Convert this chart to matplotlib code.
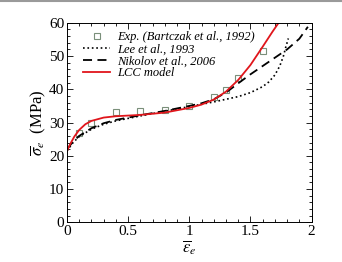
import numpy as np
import matplotlib.pyplot as plt
from matplotlib.ticker import MultipleLocator, FormatStrFormatter
from matplotlib.lines import Line2D

plt.rcParams['font.family'] = ['Liberation Serif', 'DejaVu Serif']
plt.rcParams['mathtext.fontset'] = 'stix'

# experimental points (Bartczak et al., 1992)
exp_x = [0.1, 0.2, 0.4, 0.6, 0.8, 1.0, 1.2, 1.3, 1.4, 1.6]
exp_y = [27.0, 29.8, 33.2, 33.5, 33.8, 35.0, 37.8, 39.8, 43.5, 51.5]

# Lee et al., 1993
lee_x = [0.0, 0.05, 0.1, 0.2, 0.3, 0.4, 0.6, 0.8, 1.0, 1.2, 1.4, 1.5, 1.6, 1.65, 1.7, 1.74, 1.77, 1.79, 1.81]
lee_y = [21.5, 24.0, 25.8, 28.0, 29.5, 30.5, 32.0, 33.4, 34.8, 36.2, 37.8, 39.0, 40.8, 42.2, 44.3, 47.0, 50.0, 52.8, 55.3]

# Nikolov et al., 2006
nik_x = [0.0, 0.05, 0.1, 0.2, 0.3, 0.4, 0.6, 0.8, 1.0, 1.1, 1.2, 1.3, 1.4, 1.5, 1.6, 1.7, 1.8, 1.9, 1.97]
nik_y = [22.0, 24.3, 26.0, 28.3, 29.8, 30.8, 32.2, 33.5, 35.0, 35.8, 37.0, 39.0, 41.8, 44.5, 47.0, 49.5, 52.0, 55.2, 58.8]

# LCC model
lcc_x = [0.0, 0.03, 0.06, 0.1, 0.15, 0.2, 0.3, 0.4, 0.6, 0.8, 1.0, 1.1, 1.2, 1.3, 1.4, 1.5, 1.6, 1.68, 1.74]
lcc_y = [21.5, 23.8, 25.8, 27.8, 29.5, 30.5, 31.5, 31.9, 32.3, 33.0, 34.4, 35.4, 36.9, 39.3, 42.8, 47.3, 52.8, 57.3, 60.5]

fig = plt.figure(figsize=(3.42, 2.62), dpi=100)
ax = fig.add_axes([0.196, 0.1515, 0.715, 0.7615])

ax.plot(exp_x, exp_y, 's', mfc='none', mec='#7a8f7a', ms=5, mew=0.8,
        label='Exp. (Bartczak et al., 1992)')
ax.plot(lee_x, lee_y, ':', color='black', lw=1.2, label='Lee et al., 1993')
ax.plot(nik_x, nik_y, '--', color='black', lw=1.3, dashes=(5, 3), label='Nikolov et al., 2006')
ax.plot(lcc_x, lcc_y, '-', color='#e0151b', lw=1.3, label='LCC model')

ax.set_xlim(0, 2)
ax.set_ylim(0, 60)
ax.xaxis.set_major_locator(MultipleLocator(0.5))
ax.xaxis.set_minor_locator(MultipleLocator(0.1))
ax.yaxis.set_major_locator(MultipleLocator(10))
ax.yaxis.set_minor_locator(MultipleLocator(2))
ax.xaxis.set_major_formatter(FormatStrFormatter('%g'))
ax.tick_params(which='both', direction='in', top=True, right=True, labelsize=11, pad=2, width=0.6)
ax.tick_params(which='major', length=4)
ax.tick_params(which='minor', length=2)
for s in ax.spines.values():
    s.set_linewidth(0.7)

ax.set_xlabel(r'$\overline{\varepsilon}_e$', fontsize=12, labelpad=0)
ax.set_ylabel(r'$\overline{\sigma}_e$  (MPa)', fontsize=12, labelpad=1)

leg = ax.legend(loc='upper left', frameon=False, prop={'style': 'italic', 'size': 9},
                handlelength=2.2, handletextpad=0.55, labelspacing=0.0,
                borderaxespad=0, borderpad=0.2, bbox_to_anchor=(0.055, 0.97))

# gray rule along the top edge of the picture
fig.add_artist(Line2D([0, 1], [0.995, 0.995], transform=fig.transFigure, color='#9a9a9a', lw=1.5))

fig.savefig('out.png', dpi=100)
